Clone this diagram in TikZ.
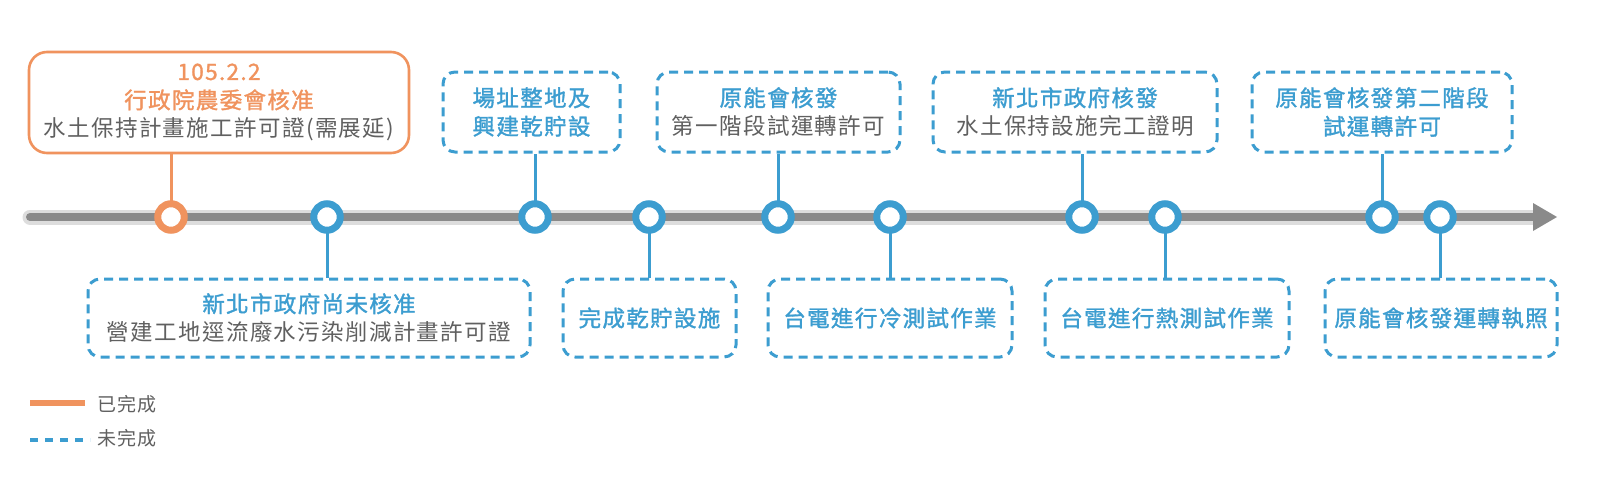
\documentclass[tikz,border=0pt]{standalone}
\usepackage{fontspec}
\newfontfamily\cjk[LetterSpace=6]{Noto Sans CJK TC}
\newfontfamily\cjkmed[LetterSpace=6, FakeBold=1.4]{Noto Sans CJK TC}
\definecolor{tlblue}{HTML}{3C9DD0}
\definecolor{tlorange}{HTML}{F0935E}
\definecolor{tlgray}{HTML}{606060}
\definecolor{axdark}{HTML}{8A8A8A}
\definecolor{axlight}{HTML}{DDDDDD}
\tikzset{
  boxfont/.style={font=\cjk\fontsize{22.5pt}{28.5pt}\selectfont},
  todobox/.style={boxfont, draw=tlblue, line width=3pt, dash pattern=on 9pt off 6pt,
     rounded corners=12pt, inner sep=0pt, align=center, text=tlblue},
  donebox/.style={boxfont, draw=tlorange, line width=2.6pt,
     rounded corners=18pt, inner sep=0pt, align=center},
  todolink/.style={draw=tlblue, line width=3pt},
  donelink/.style={draw=tlorange, line width=3pt},
  todoring/.style={circle, draw=tlblue, line width=7pt, fill=white, minimum size=26.5pt, inner sep=0pt},
  donering/.style={circle, draw=tlorange, line width=7pt, fill=white, minimum size=26.5pt, inner sep=0pt},
  legtext/.style={font=\cjk\fontsize{19pt}{22pt}\selectfont, text=tlgray, anchor=west, inner sep=0pt}
}
\newcommand\medtx{\cjkmed}
\begin{document}
\begin{tikzpicture}[x=1pt,y=-1pt]
\useasboundingbox[fill=white] (0,0) rectangle (1599,488);

% axis
\coordinate (axS) at (30,217);
\coordinate (axE) at (1535,217);
\coordinate (axT) at (1557,217);
\draw[axlight, line width=15pt, line cap=round] (axS) -- (axE);
\draw[axdark, line width=8pt, line cap=round] (axS) -- (axE);
\fill[axdark] (1533,203) -- (axT) -- (1533,231) -- cycle;

% top boxes
\node[donebox, minimum width=380pt, minimum height=101pt] (t1) at (219,102.5)
  {{\color{tlorange}\medtx 105.2.2}\\{\color{tlorange}\medtx 行政院農委會核准}\\{\color{tlgray}水土保持計畫施工許可證(需展延)}};
\node[todobox, minimum width=177pt, minimum height=80pt] (t2) at (531.5,112)
  {\medtx 場址整地及\\\medtx 興建乾貯設};
\node[todobox, minimum width=243pt, minimum height=80pt] (t3) at (778.5,112)
  {{\medtx 原能會核發}\\{\color{tlgray}第一階段試運轉許可}};
\node[todobox, minimum width=284pt, minimum height=80pt] (t4) at (1075,112)
  {{\medtx 新北市政府核發}\\{\color{tlgray}水土保持設施完工證明}};
\node[todobox, minimum width=260pt, minimum height=80pt] (t5) at (1382,112)
  {\medtx 原能會核發第二階段\\\medtx 試運轉許可};

% bottom boxes
\node[todobox, minimum width=442pt, minimum height=78pt] (b1) at (309,318)
  {{\medtx 新北市政府尚未核准}\\{\color{tlgray}營建工地逕流廢水污染削減計畫許可證}};
\node[todobox, minimum width=173pt, minimum height=78pt] (b2) at (649.5,318)
  {\medtx 完成乾貯設施};
\node[todobox, minimum width=244pt, minimum height=78pt] (b3) at (890,318)
  {\medtx 台電進行冷測試作業};
\node[todobox, minimum width=244pt, minimum height=78pt] (b4) at (1167,318)
  {\medtx 台電進行熱測試作業};
\node[todobox, minimum width=232pt, minimum height=78pt] (b5) at (1441,318)
  {\medtx 原能會核發運轉執照};

% milestone positions
\coordinate (m1) at (171,217);
\coordinate (m2) at (327,217);
\coordinate (m3) at (535,217);
\coordinate (m4) at (649,217);
\coordinate (m5) at (778,217);
\coordinate (m6) at (890,217);
\coordinate (m7) at (1082,217);
\coordinate (m8) at (1165,217);
\coordinate (m9) at (1382,217);
\coordinate (m10) at (1440,217);

% connectors
\draw[donelink] (m1) -- (m1 |- t1.south);
\draw[todolink] (m2) -- (m2 |- b1.north);
\draw[todolink] (m3) -- (m3 |- t2.south);
\draw[todolink] (m4) -- (m4 |- b2.north);
\draw[todolink] (m5) -- (m5 |- t3.south);
\draw[todolink] (m6) -- (m6 |- b3.north);
\draw[todolink] (m7) -- (m7 |- t4.south);
\draw[todolink] (m8) -- (m8 |- b4.north);
\draw[todolink] (m9) -- (m9 |- t5.south);
\draw[todolink] (m10) -- (m10 |- b5.north);

% rings
\node[donering] (r1) at (m1) {};
\node[todoring] (r2) at (m2) {};
\node[todoring] (r3) at (m3) {};
\node[todoring] (r4) at (m4) {};
\node[todoring] (r5) at (m5) {};
\node[todoring] (r6) at (m6) {};
\node[todoring] (r7) at (m7) {};
\node[todoring] (r8) at (m8) {};
\node[todoring] (r9) at (m9) {};
\node[todoring] (r10) at (m10) {};

% legend
\coordinate (la1) at (30,403);
\coordinate (la2) at (85,403);
\coordinate (lb1) at (30,440);
\coordinate (lb2) at (90,440);
\draw[tlorange, line width=6pt] (la1) -- (la2);
\draw[tlblue, line width=3.5pt, dash pattern=on 8pt off 7pt] (lb1) -- (lb2);
\node[legtext] (lt1) at (97,404) {已完成};
\node[legtext] (lt2) at (97,438) {未完成};
\end{tikzpicture}
\end{document}
